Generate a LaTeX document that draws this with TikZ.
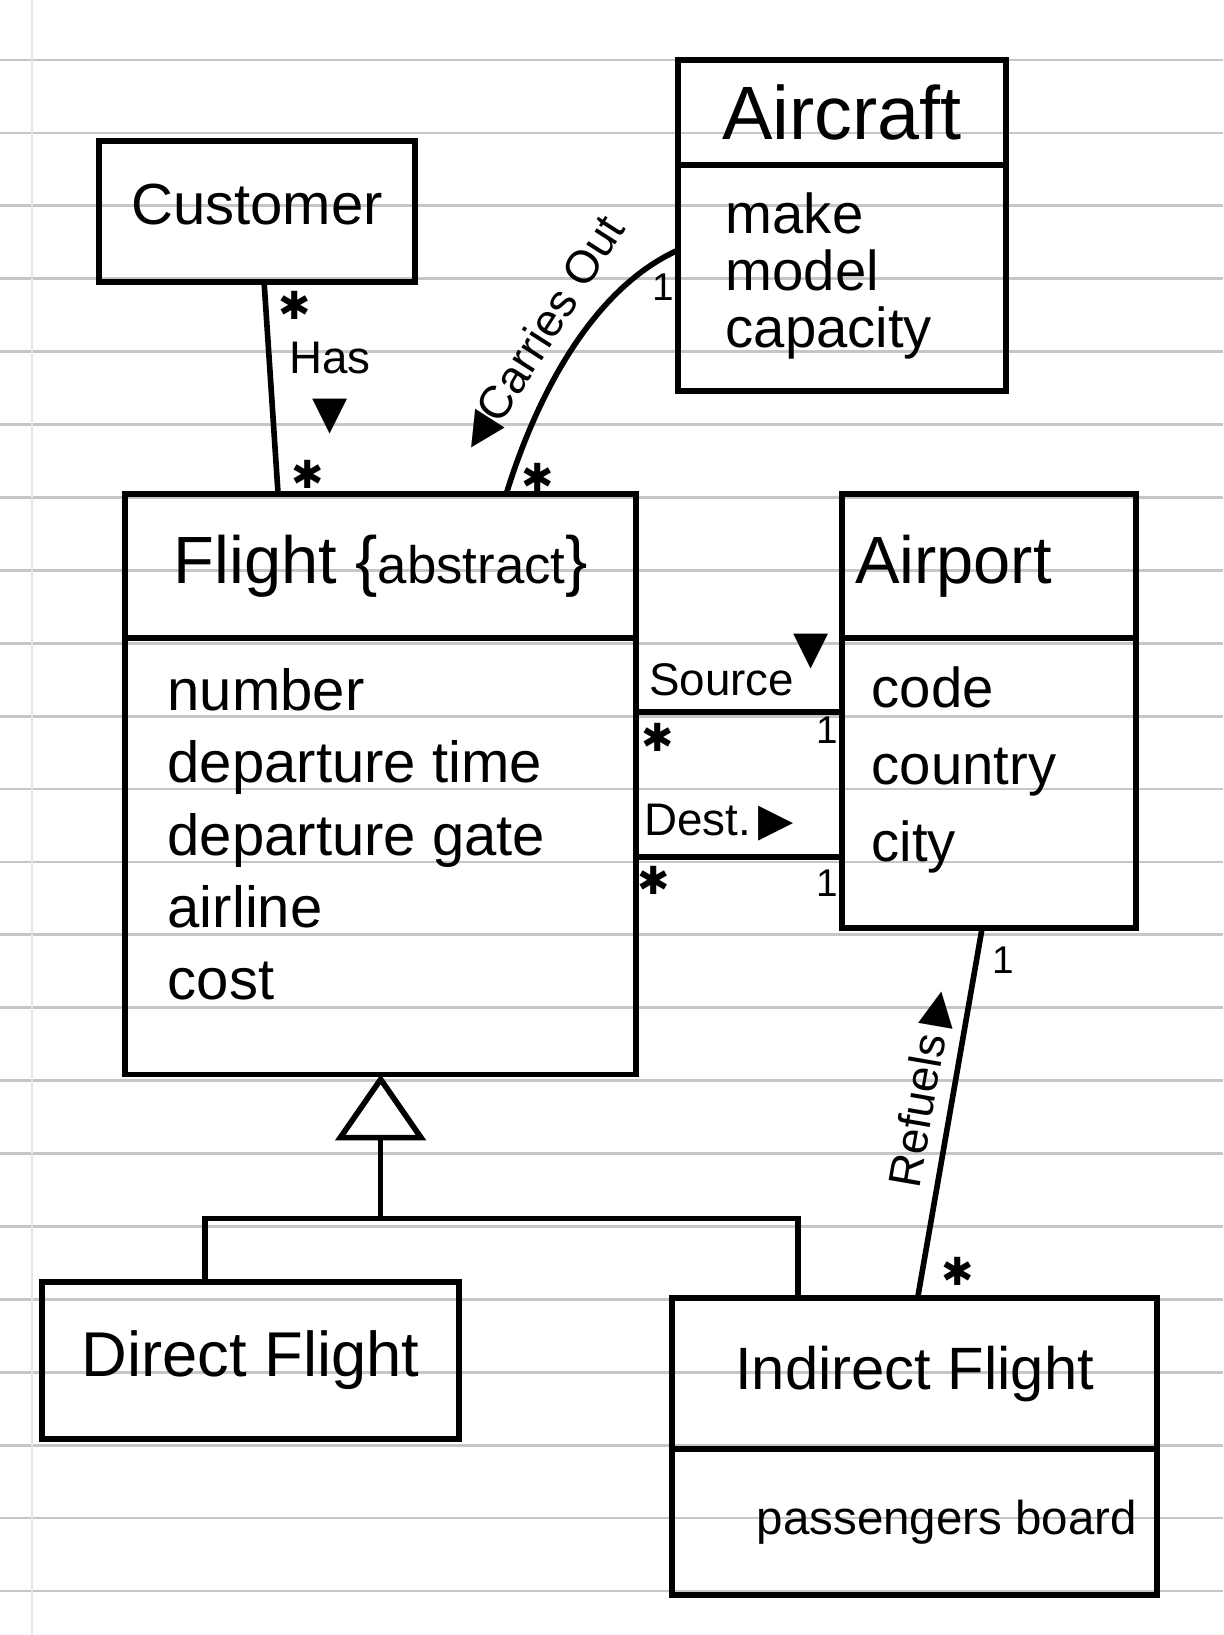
\documentclass[tikz,border=0pt]{standalone}
\usepackage{fontspec}
\setmainfont{Liberation Sans}
\newfontfamily\symfont{DejaVu Sans}
\usetikzlibrary{arrows.meta,positioning}
\newcommand{\many}{{\symfont ✱}}
\newcommand{\tri}[1]{{\symfont #1}}
\newcommand{\fs}[1]{\fontsize{#1}{1.2\dimexpr#1pt\relax}\selectfont}

\begin{document}
\begin{tikzpicture}[
  x=0.01cm, y=-0.01cm,
  rule/.style={gray!45, line width=0.8pt},
  cls/.style={draw, line width=1.6pt, outer sep=0pt, inner sep=0pt,
              font=\fs{19}},
  attrs/.style={align=left, inner sep=0pt, font=\fontsize{16.5}{20.5}\selectfont},
  mult/.style={inner sep=0pt, font=\fs{11}},
  lbl/.style={inner sep=1pt, font=\fs{13}},
  assoc/.style={line width=1.6pt},
  isa/.style={line width=1.6pt,
              -{Triangle[open, length=0.66cm, width=0.9cm]}}
]
\useasboundingbox (0,0) rectangle (1223,1635);
% ruled paper
\foreach \k in {0,...,21}
  \draw[rule] (0,{60+72.9*\k}) -- (1223,{60+72.9*\k});
\draw[rule, gray!20] (32,0) -- (32,1635);

% classes
\node[cls, font=\fs{16.5}, minimum width=3.16cm, minimum height=1.41cm,
      anchor=north west]
  (customer) at (99,141) {\raisebox{0.15cm}{Customer}};

\node[cls, font=\fs{21.5}, minimum width=3.28cm, minimum height=1.05cm,
      anchor=north west]
  (aircraft) at (678,60) {Aircraft};
\node[cls, minimum width=3.28cm, minimum height=2.26cm, below=0pt of aircraft]
  (aircraftattr) {};
\node[attrs, font=\fontsize{16}{16.2}\selectfont,
      below right=0.27cm and 0.47cm of aircraftattr.north west]
  (aircraftlist) {make\\model\\capacity};

\node[cls, minimum width=5.11cm, minimum height=1.44cm, anchor=north west]
  (flight) at (125,494) {Flight \{{\fs{15}abstract}\}};
\node[cls, minimum width=5.11cm, minimum height=4.36cm, below=0pt of flight]
  (flightattr) {};
\node[attrs, below right=0.3cm and 0.42cm of flightattr.north west]
  (flightlist) {number\\departure time\\departure gate\\airline\\cost};

\node[cls, minimum width=2.94cm, minimum height=1.44cm, anchor=north west,
      text width=2.68cm, align=left]
  (airport) at (842,494) {Airport};
\node[cls, minimum width=2.94cm, minimum height=2.90cm, below=0pt of airport]
  (airportattr) {};
\node[attrs, font=\fontsize{16}{21.9}\selectfont,
      below right=0.28cm and 0.29cm of airportattr.north west]
  (airportlist) {code\\country\\city};

\node[cls, font=\fs{18}, minimum width=4.17cm, minimum height=1.57cm,
      anchor=north west]
  (direct) at (42,1282) {Direct Flight};
\node[cls, font=\fs{17}, minimum width=4.85cm, minimum height=1.51cm,
      anchor=north west]
  (indirect) at (672,1298) {Indirect Flight};
\node[cls, minimum width=4.85cm, minimum height=1.46cm, below=0pt of indirect]
  (indirectattr) {};
\node[attrs, font=\fs{13.5}, right=0.84cm of indirectattr.west]
  (indirectlist) {passengers board};

% associations
\draw[assoc] ([xshift=0.07cm]customer.south) -- ([xshift=-1.025cm]flight.north)
  node[mult, pos=0, xshift=0.31cm, yshift=-0.23cm] {\many}
  node[lbl, pos=0.5, right=0.12cm, align=center] {Has\\\tri{▼}}
  node[mult, pos=1, xshift=0.30cm, yshift=0.20cm] {\many};

\draw[assoc] ([xshift=1.255cm]flight.north)
  .. controls +(29,-94) and +(-88,40) .. ([yshift=-0.85cm]aircraftattr.north west)
  node[mult, pos=0, xshift=0.31cm, yshift=0.17cm] {\many}
  node[lbl, pos=0.5, sloped, above=2pt] {\tri{◀}Carries Out}
  node[mult, pos=1, xshift=-0.15cm, yshift=-0.37cm] {1};

\draw[assoc] ([yshift=-0.74cm]flightattr.north east)
  -- ([yshift=-0.74cm]airportattr.north west)
  node[mult, pos=0, xshift=0.21cm, yshift=-0.25cm] {\many}
  node[lbl, midway, above=0.1cm] {Source\raisebox{9pt}{\tri{▼}}}
  node[mult, pos=1, xshift=-0.15cm, yshift=-0.18cm] {1};

\draw[assoc] ([yshift=-2.19cm]flightattr.north east)
  -- ([yshift=-2.19cm]airportattr.north west)
  node[mult, pos=0, xshift=0.17cm, yshift=-0.23cm] {\many}
  node[lbl, midway, above=0.1cm, xshift=-0.2cm] {Dest.\,\tri{▶}}
  node[mult, pos=1, xshift=-0.15cm, yshift=-0.26cm] {1};

\draw[assoc] ([xshift=-0.07cm]airportattr.south) -- ([xshift=0.03cm]indirect.north)
  node[mult, pos=0, xshift=0.21cm, yshift=-0.32cm] {1}
  node[lbl, pos=0.45, sloped, above=0.05cm] {Refuels\,\tri{▶}}
  node[mult, pos=1, xshift=0.40cm, yshift=0.27cm] {\many};

% generalization
\coordinate (split) at ([yshift=-1.44cm]flightattr.south);
\draw[assoc] ([xshift=-0.455cm]direct.north) |- (split);
\draw[assoc] ([xshift=-1.165cm]indirect.north) |- (split);
\draw[isa] (split) -- (flightattr.south);
\end{tikzpicture}
\end{document}
